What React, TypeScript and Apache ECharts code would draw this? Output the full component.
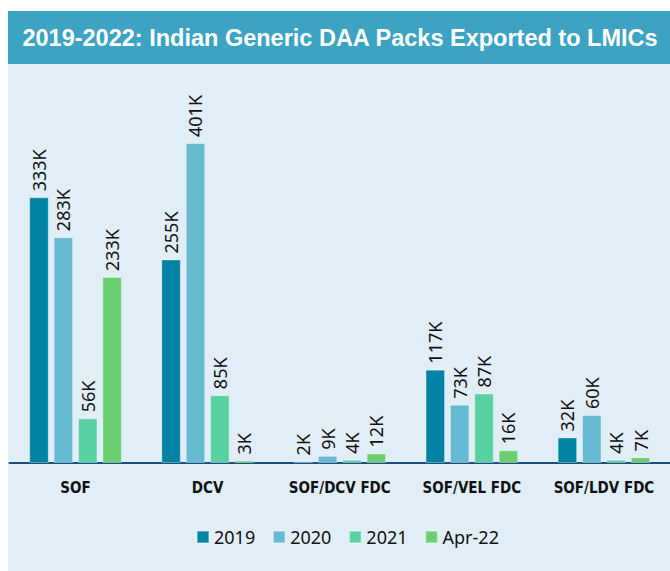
import React, { useEffect, useRef } from "react";
import * as echarts from "echarts";

const categories = ["SOF", "DCV", "SOF/DCV FDC", "SOF/VEL FDC", "SOF/LDV FDC"];
const seriesNames = ["2019", "2020", "2021", "Apr-22"];
const values2019 = [333, 255, 2, 117, 32];
const values2020 = [283, 401, 9, 73, 60];
const values2021 = [56, 85, 4, 87, 4];
const valuesApr22 = [233, 3, 12, 16, 7];
const seriesValues = [values2019, values2020, values2021, valuesApr22];
const colors = ["#0083a4", "#66bbd2", "#58d1a3", "#6bcf72"];
const titleText = "2019-2022: Indian Generic DAA Packs Exported to LMICs";

export default function App() {
  const ref = useRef<HTMLDivElement>(null);
  useEffect(() => {
    if (!ref.current) return;
    const chart = echarts.init(ref.current, null, { renderer: "svg" });
    chart.setOption({
      animation: false,
      backgroundColor: "#e1eef7",
      graphic: [
        { type: "rect", shape: { x: 0, y: 0, width: 670, height: 11 }, style: { fill: "#ffffff" } },
        { type: "rect", shape: { x: 0, y: 0, width: 8, height: 571 }, style: { fill: "#ffffff" } },
        { type: "rect", shape: { x: 8, y: 11, width: 662, height: 53 }, style: { fill: "#3ca3c3" } },
        {
          type: "text",
          x: 340,
          y: 38,
          style: {
            text: titleText,
            fill: "#ffffff",
            font: "bold 23.5px 'Liberation Sans', Arial, sans-serif",
            textAlign: "center",
            textVerticalAlign: "middle",
          },
        },
      ],
      legend: {
        left: 191,
        top: 523,
        icon: "rect",
        itemWidth: 12,
        itemHeight: 12,
        itemGap: 17,
        textStyle: { fontSize: 18, fontFamily: "Noto Sans", color: "#111" },
        data: seriesNames,
      },
      grid: { left: 9.5, right: 0, top: 64, bottom: 108, containLabel: false },
      xAxis: {
        type: "category",
        data: categories,
        axisTick: { show: false },
        axisLine: { lineStyle: { color: "#1d4f7c", width: 2 } },
        axisLabel: {
          interval: 0,
          margin: 17,
          fontSize: 15,
          fontWeight: "bold",
          fontFamily: "DejaVu Sans Condensed",
          color: "#111",
        },
      },
      yAxis: { type: "value", min: 0, max: 500, show: false, splitLine: { show: false } },
      series: seriesNames.map((name, i) => ({
        name,
        type: "bar",
        data: seriesValues[i],
        barWidth: 19.5,
        barGap: "25%",
        itemStyle: { color: colors[i], borderColor: "rgba(255,255,255,0.35)", borderWidth: 1 },
        label: {
          show: true,
          position: "top",
          rotate: 90,
          align: "left",
          verticalAlign: "middle",
          distance: 6,
          fontSize: 18,
          fontFamily: "Noto Sans",
          color: "#111",
          formatter: (p: any) => `${p.value}K`,
        },
      })),
    });
    return () => chart.dispose();
  }, []);
  return (
    <div
      ref={ref}
      style={{ position: "absolute", left: 0, top: 0, width: 670, height: 571 }}
    />
  );
}
